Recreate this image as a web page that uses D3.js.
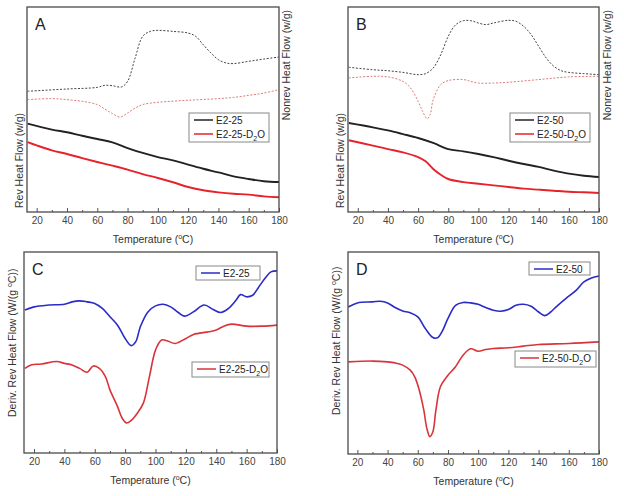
<!DOCTYPE html>
<html><head><meta charset="utf-8">
<script src="https://cdn.jsdelivr.net/npm/d3@7"></script>
<style>body{margin:0;background:#fff;} text{font-family:"Liberation Sans",Arial,sans-serif;}</style>
</head><body>
<svg id="c" width="624" height="496"></svg>
<script>
// ---------- data (temperature °C, signal in arbitrary units 0-100) ----------
const xTicks = [20,40,60,80,100,120,140,160,180];

// Panel A
const aNonrevE225T = [14,40,60,65,70,76,80,85,90,95,100,110,120,125,130,135,140,145,150,160,170,180];
const aNonrevE225V = [58.9,60.0,60.8,61.8,61.6,61.0,63.7,75.1,85.7,88.1,88.6,88.1,87.3,85.7,81.6,77.6,74.3,72.7,72.4,73.5,74.6,75.6];
const aNonrevD2OT = [14,30,40,50,60,65,70,75,80,85,90,100,120,140,150,160,170,180];
const aNonrevD2OV = [54.8,55.3,54.8,54.0,52.4,50.2,48.0,46.3,48.3,50.7,52.4,53.5,54.5,55.3,55.9,56.9,58.0,59.7];
const aRevE225T = [14,30,40,50,60,70,80,90,100,110,120,130,140,150,160,170,180];
const aRevE225V = [43.1,40.2,38.9,37.2,35.6,34.0,31.2,28.8,26.8,25.2,23.1,21.1,19.3,17.4,16.1,15.0,14.6];
const aRevD2OT = [14,20,30,40,50,60,70,80,90,100,110,120,130,140,150,160,170,180];
const aRevD2OV = [34.1,32.5,30.1,28.3,26.3,24.4,22.6,20.7,18.5,16.6,14.5,12.2,10.6,9.6,8.9,8.5,7.6,7.2];

// Panel B
const bNonrevE250T = [14,30,40,50,60,65,70,75,80,85,90,95,100,105,110,120,125,130,135,140,145,150,155,160,170,180];
const bNonrevE250V = [70.6,69.4,68.9,68.1,67.0,67.5,70.2,76.7,85.7,91.4,93.3,93.3,92.2,91.4,92.2,93.5,93.0,90.6,86.5,80.8,75.1,71.1,68.9,68.1,67.5,67.0];
const bNonrevD2OT = [14,30,40,50,55,60,63,66,68,70,75,80,90,95,100,110,120,140,160,180];
const bNonrevD2OV = [65.4,66.2,65.9,63.7,60.5,54.0,49.1,45.5,47.5,54.8,62.1,64.1,64.6,63.7,62.9,62.9,63.3,64.6,65.9,66.2];
const bRevE250T = [14,30,40,50,60,70,80,90,100,110,120,130,140,150,160,170,180];
const bRevE250V = [43.4,41.3,39.8,38.0,36.1,33.7,30.7,29.6,28.3,26.8,25.0,23.4,22.0,20.2,18.7,17.7,17.1];
const bRevD2OT = [14,30,40,50,60,65,70,75,80,90,100,110,120,130,140,150,160,170,180];
const bRevD2OV = [35.0,32.4,30.7,29.1,26.8,24.7,21.0,18.2,16.1,14.6,13.8,13.0,12.2,11.4,10.9,10.4,9.9,9.6,9.3];

// Panel C
const cE225T = [14,20,30,40,45,50,55,60,65,70,75,80,84,87,90,95,100,105,110,115,119,125,132,138,143,148,153,156,160,164,168,172,176,180];
const cE225V = [71.1,72.7,73.6,74.0,75.2,75.7,75.2,74.4,71.9,67.8,63.6,57.0,53.4,55.4,62.8,70.2,73.2,74.0,72.7,69.9,68.1,70.2,73.6,71.4,69.9,71.9,76.0,78.8,77.7,78.5,82.6,86.8,90.1,90.6];
const cD2OT = [14,18,25,35,40,45,50,55,59,63,67,70,75,78,81,84,88,92,96,100,104,108,113,120,125,135,140,145,150,160,170,180];
const cD2OV = [42.1,43.8,44.3,45.5,44.6,43.8,42.1,40.2,43.3,42.1,38.0,31.4,23.1,17.4,14.9,16.2,19.8,24.8,38.0,51.2,56.2,55.7,54.5,57.0,59.0,60.3,61.2,63.1,64.1,63.1,63.1,63.6];

// Panel D
const dE250T = [14,20,30,35,40,45,50,55,60,65,70,73,76,80,85,90,95,100,105,110,115,120,125,130,135,140,144,148,152,158,165,170,175,180];
const dE250V = [72.8,74.8,75.3,75.6,74.8,72.5,70.8,69.9,67.9,62.1,57.7,57.5,60.5,67.1,73.6,75.0,74.8,74.1,72.5,71.2,70.7,71.5,73.6,74.1,73.1,70.3,68.5,70.3,73.1,76.9,81.1,85.2,87.1,88.1];
const dD2OT = [14,30,40,45,50,55,58,61,64,66,68,70,72,75,80,85,90,95,100,105,110,120,130,140,160,180];
const dD2OV = [45.6,46.0,45.6,45.1,44.0,41.5,38.2,31.6,21.7,12.7,8.6,11.0,21.7,33.3,39.0,43.2,48.9,52.1,50.9,51.7,52.2,52.6,53.4,54.2,54.7,55.5];

const BLACK="#222", RED="#e8222a", PINK="#e07a7a", BLUE="#2b2bc8", RED2="#d8343a", GREY="#555";

const svg = d3.select("#c");

function d2o(sel, base){
  sel.append("tspan").text(base+"-D");
  sel.append("tspan").attr("font-size","7px").attr("dy",3).text("2");
  sel.append("tspan").attr("dy",-3).text("O");
}

function panel(cfg){
  const g = svg.append("g");
  const x = d3.scaleLinear().domain(cfg.xd).range([cfg.l, cfg.r]);
  const y = d3.scaleLinear().domain([0,100]).range([cfg.b, cfg.t]);
  const line = d3.line().x(d=>x(d[0])).y(d=>y(d[1])).curve(d3.curveCatmullRom.alpha(0.5));
  cfg.series.forEach(s=>{
    const pts = s.T.map((t,i)=>[t,s.V[i]]);
    g.append("path").attr("d",line(pts)).attr("fill","none")
      .attr("stroke",s.color).attr("stroke-width",s.w)
      .attr("stroke-linejoin","round")
      .attr("stroke-dasharray",s.dash||null);
  });
  const ax = d3.axisBottom(x).tickValues(xTicks).tickSize(-4).tickPadding(5).tickFormat(d3.format("d"));
  const axg = g.append("g").attr("transform",`translate(0,${cfg.b})`).call(ax);
  axg.select(".domain").remove();
  axg.selectAll("line").attr("stroke",GREY);
  axg.selectAll("text").attr("fill","#444").attr("font-size","10px");
  const minor = d3.axisBottom(x).tickValues(d3.range(30,180,20)).tickSize(-2).tickFormat("");
  const mg = g.append("g").attr("transform",`translate(0,${cfg.b})`).call(minor);
  mg.select(".domain").remove(); mg.selectAll("line").attr("stroke",GREY);
  g.append("rect").attr("x",cfg.l).attr("y",cfg.t).attr("width",cfg.r-cfg.l).attr("height",cfg.b-cfg.t)
    .attr("fill","none").attr("stroke","#4a4a4a").attr("stroke-width",1.3);
  g.append("text").attr("x",cfg.l+8).attr("y",cfg.t+23).attr("font-size","16px").attr("fill","#222").text(cfg.letter);
  const xt = g.append("text").attr("x",(cfg.l+cfg.r)/2).attr("y",cfg.b+31).attr("text-anchor","middle")
    .attr("font-size","10.5px").attr("fill","#333");
  xt.append("tspan").text("Temperature (");
  xt.append("tspan").attr("font-size","7px").attr("dy",-4).text("o");
  xt.append("tspan").attr("dy",4).text("C)");
  g.append("text").attr("transform",`translate(${cfg.yl.x},${cfg.yl.y}) rotate(-90)`).attr("text-anchor","start")
    .attr("font-size","10.5px").attr("fill","#333").call(t=>{
      if(cfg.deriv){
        t.append("tspan").text("Deriv. Rev Heat Flow (W/(g ");
        t.append("tspan").attr("font-size","7px").attr("dy",-4).text("o");
        t.append("tspan").attr("dy",4).text("C))");
      } else t.text("Rev Heat Flow (w/g)");
    });
  if(cfg.yr){
    g.append("text").attr("transform",`translate(${cfg.yr.x},${cfg.yr.y}) rotate(-90)`).attr("text-anchor","end")
      .attr("font-size","10.5px").attr("fill","#333").text("Nonrev Heat Flow (w/g)");
  }
  cfg.legends.forEach(L=>{
    g.append("rect").attr("x",L.x).attr("y",L.y).attr("width",L.w).attr("height",L.h)
      .attr("fill","#fff").attr("stroke","#888").attr("stroke-width",1);
    L.items.forEach((it,i)=>{
      const yy = L.y + 7 + i*14;
      g.append("line").attr("x1",L.x+5).attr("x2",L.x+24).attr("y1",yy).attr("y2",yy)
        .attr("stroke",it.color).attr("stroke-width",1.5);
      const tx = g.append("text").attr("x",L.x+27).attr("y",yy+3.5).attr("font-size","10px").attr("fill","#222");
      if(it.d2o) d2o(tx, it.name); else tx.text(it.name);
    });
  });
}

const dash = "2,1.6";
panel({l:27,r:279,t:7,b:212,xd:[13.6,180],letter:"A",
  yl:{x:23,y:208}, yr:{x:290,y:10},
  series:[
    {T:aNonrevE225T,V:aNonrevE225V,color:"#444",w:1,dash},
    {T:aNonrevD2OT,V:aNonrevD2OV,color:PINK,w:1,dash},
    {T:aRevE225T,V:aRevE225V,color:BLACK,w:1.9},
    {T:aRevD2OT,V:aRevD2OV,color:RED,w:1.9}],
  legends:[{x:189,y:113,w:80,h:29,items:[{name:"E2-25",color:BLACK},{name:"E2-25",color:RED,d2o:true}]}]
});
panel({l:348,r:599,t:7,b:212,xd:[13.5,180],letter:"B",
  yl:{x:344,y:208}, yr:{x:611,y:10},
  series:[
    {T:bNonrevE250T,V:bNonrevE250V,color:"#444",w:1,dash},
    {T:bNonrevD2OT,V:bNonrevD2OV,color:PINK,w:1,dash},
    {T:bRevE250T,V:bRevE250V,color:BLACK,w:1.9},
    {T:bRevD2OT,V:bRevD2OV,color:RED,w:1.9}],
  legends:[{x:510,y:113,w:80,h:29,items:[{name:"E2-50",color:BLACK},{name:"E2-50",color:RED,d2o:true}]}]
});
panel({l:24,r:277,t:252,b:453,xd:[13.4,180],letter:"C",deriv:true,
  yl:{x:16,y:417},
  series:[
    {T:cE225T,V:cE225V,color:BLUE,w:1.6},
    {T:cD2OT,V:cD2OV,color:RED2,w:1.6}],
  legends:[{x:196,y:266,w:64,h:14,items:[{name:"E2-25",color:BLUE}]},
           {x:192,y:362,w:77,h:15,items:[{name:"E2-25",color:RED2,d2o:true}]}]
});
panel({l:348,r:599,t:252,b:454,xd:[13.8,180],letter:"D",deriv:true,
  yl:{x:340,y:415},
  series:[
    {T:dE250T,V:dE250V,color:BLUE,w:1.6},
    {T:dD2OT,V:dD2OV,color:RED2,w:1.6}],
  legends:[{x:529,y:262,w:61,h:13,items:[{name:"E2-50",color:BLUE}]},
           {x:515,y:351,w:81,h:16,items:[{name:"E2-50",color:RED2,d2o:true}]}]
});
</script>
</body></html>
